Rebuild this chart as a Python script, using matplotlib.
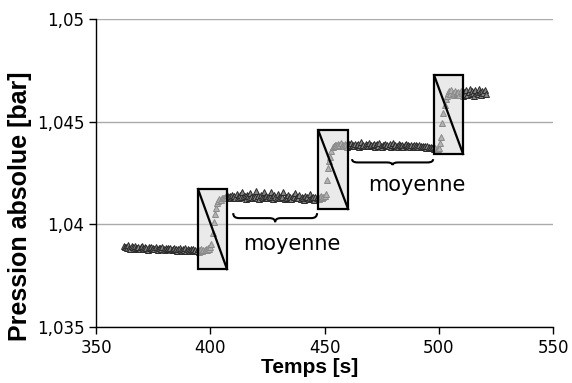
import matplotlib.pyplot as plt
import numpy as np
from matplotlib.patches import Rectangle
from matplotlib.path import Path
from matplotlib.patches import PathPatch

# plateau 1 (0.5 s sampling)
t_p1 = np.arange(362, 398, 0.5)
p_p1 = [1.03896, 1.03888, 1.03892, 1.03884, 1.03899, 1.03887, 1.03882, 1.03893, 1.03889, 1.03880, 1.03894, 1.03886,
        1.03883, 1.03891, 1.03878, 1.03888, 1.03895, 1.03884, 1.03881, 1.03890, 1.03886, 1.03877, 1.03889, 1.03883,
        1.03892, 1.03880, 1.03885, 1.03879, 1.03888, 1.03882, 1.03876, 1.03887, 1.03884, 1.03879, 1.03890, 1.03881,
        1.03875, 1.03884, 1.03880, 1.03887, 1.03878, 1.03883, 1.03874, 1.03881, 1.03886, 1.03877, 1.03880, 1.03873,
        1.03879, 1.03884, 1.03876, 1.03871, 1.03880, 1.03877, 1.03883, 1.03872, 1.03878, 1.03875, 1.03869, 1.03879,
        1.03874, 1.03881, 1.03870, 1.03876, 1.03873, 1.03879, 1.03868, 1.03875, 1.03880, 1.03872, 1.03877, 1.03874]

# step 1
t_s1 = [398.0, 398.5, 399.0, 399.5, 400.0, 400.5, 401.0, 401.5, 402.0, 402.5, 403.0, 403.5,
        404.0, 404.5, 405.0, 405.5]
p_s1 = [1.03880, 1.03875, 1.03885, 1.03878, 1.03890, 1.03905, 1.03960, 1.04010, 1.04050,
        1.04080, 1.04105, 1.04115, 1.04125, 1.04120, 1.04130, 1.04128]

# plateau 2
t_p2 = np.arange(406, 450, 0.5)
p_p2 = [1.04128, 1.04136, 1.04131, 1.04142, 1.04134, 1.04139, 1.04127, 1.04145, 1.04133, 1.04138, 1.04130, 1.04148,
        1.04136, 1.04129, 1.04141, 1.04135, 1.04158, 1.04132, 1.04139, 1.04126, 1.04144, 1.04137, 1.04131, 1.04152,
        1.04134, 1.04128, 1.04140, 1.04136, 1.04163, 1.04130, 1.04137, 1.04125, 1.04143, 1.04135, 1.04129, 1.04156,
        1.04133, 1.04140, 1.04127, 1.04138, 1.04132, 1.04160, 1.04136, 1.04124, 1.04141, 1.04134, 1.04130, 1.04147,
        1.04135, 1.04128, 1.04139, 1.04133, 1.04157, 1.04126, 1.04136, 1.04131, 1.04144, 1.04129, 1.04135, 1.04122,
        1.04138, 1.04132, 1.04153, 1.04127, 1.04134, 1.04130, 1.04142, 1.04125, 1.04136, 1.04131, 1.04120, 1.04139,
        1.04129, 1.04134, 1.04124, 1.04150, 1.04131, 1.04127, 1.04136, 1.04121, 1.04133, 1.04128, 1.04135, 1.04126,
        1.04132, 1.04138, 1.04129, 1.04134]

# step 2
t_s2 = [450.0, 450.5, 451.0, 451.5, 452.0, 452.5, 453.0, 453.5, 454.0, 454.5]
p_s2 = [1.04140, 1.04150, 1.04215, 1.04275, 1.04310, 1.04330, 1.04360, 1.04375, 1.04380, 1.04385]

# plateau 3
t_p3 = np.arange(455, 500, 0.5)
p_p3 = [1.04388, 1.04382, 1.04391, 1.04385, 1.04396, 1.04380, 1.04389, 1.04384, 1.04393, 1.04387, 1.04379, 1.04392,
        1.04386, 1.04399, 1.04383, 1.04388, 1.04381, 1.04394, 1.04385, 1.04390, 1.04378, 1.04387, 1.04402, 1.04384,
        1.04389, 1.04380, 1.04391, 1.04386, 1.04383, 1.04397, 1.04381, 1.04388, 1.04385, 1.04392, 1.04377, 1.04386,
        1.04390, 1.04382, 1.04398, 1.04384, 1.04379, 1.04389, 1.04385, 1.04393, 1.04380, 1.04387, 1.04383, 1.04390,
        1.04378, 1.04386, 1.04395, 1.04381, 1.04388, 1.04384, 1.04379, 1.04391, 1.04385, 1.04382, 1.04388, 1.04376,
        1.04385, 1.04392, 1.04380, 1.04386, 1.04383, 1.04378, 1.04389, 1.04381, 1.04385, 1.04377, 1.04386, 1.04382,
        1.04379, 1.04387, 1.04381, 1.04375, 1.04383, 1.04379, 1.04384, 1.04374, 1.04380, 1.04376, 1.04372, 1.04379,
        1.04370, 1.04375, 1.04368, 1.04372, 1.04365, 1.04369]

# step 3
t_s3 = [500.0, 500.5, 501.0, 501.5, 502.0, 502.5, 503.0, 503.5, 504.0, 504.5, 505.0, 505.5,
        506.0, 506.5, 507.0, 507.5]
p_s3 = [1.04370, 1.04395, 1.04425, 1.04495, 1.04545, 1.04580, 1.04612, 1.04625, 1.04640,
        1.04650, 1.04635, 1.04655, 1.04642, 1.04630, 1.04648, 1.04636]

# plateau 4
t_p4 = np.arange(508, 521, 0.5)
p_p4 = [1.04638, 1.04645, 1.04632, 1.04650, 1.04641, 1.04628, 1.04647, 1.04636, 1.04655, 1.04630, 1.04643, 1.04662,
        1.04634, 1.04648, 1.04639, 1.04627, 1.04653, 1.04641, 1.04635, 1.04660, 1.04644, 1.04631, 1.04649, 1.04638,
        1.04656, 1.04633]

time_s = np.concatenate([t_p1, t_s1, t_p2, t_s2, t_p3, t_s3, t_p4])
pression = np.concatenate([p_p1, p_s1, p_p2, p_s2, p_p3, p_s3, p_p4])

# transition boxes: (t_start, t_end, p_low, p_high)
boxes = [(394.6, 407.3, 1.03782, 1.04172),
         (447.2, 460.3, 1.04075, 1.04459),
         (497.9, 510.6, 1.04343, 1.04727)]

# braces under the averaged plateaus: (t_start, t_end, p_top, p_tip)
braces = [(410.0, 446.7, 1.04055, 1.04011),
          (462.0, 497.5, 1.04318, 1.04289)]
labels = [(435.8, 1.03904, 'moyenne'), (490.5, 1.04192, 'moyenne')]

fig = plt.figure(figsize=(5.72, 3.83), dpi=100)
ax = fig.add_axes([0.168, 0.146, 0.799, 0.804])

ax.plot(time_s, pression, linestyle='none', marker='^', markersize=4.6,
        markerfacecolor='#858585', markeredgecolor='#2a2a2a', markeredgewidth=0.7, zorder=2)

for t0, t1, lo, hi in boxes:
    ax.add_patch(Rectangle((t0, lo), t1 - t0, hi - lo, facecolor='#d9d9d9', alpha=0.55,
                           edgecolor='none', zorder=3))
    ax.add_patch(Rectangle((t0, lo), t1 - t0, hi - lo, facecolor='none',
                           edgecolor='black', linewidth=1.6, zorder=4))
    ax.plot([t0, t1], [hi, lo], color='black', linewidth=1.6, zorder=4)

for t0, t1, top, tip in braces:
    mid = top - (top - tip) * 0.55
    tc = (t0 + t1) / 2
    r = 2.5
    verts = [(t0, top), (t0, mid), (t0 + r, mid),
             (tc - r, mid), (tc, mid), (tc, tip),
             (tc, mid), (tc + r, mid),
             (t1 - r, mid), (t1, mid), (t1, top)]
    codes = [Path.MOVETO, Path.CURVE3, Path.CURVE3,
             Path.LINETO, Path.CURVE3, Path.CURVE3,
             Path.CURVE3, Path.CURVE3,
             Path.LINETO, Path.CURVE3, Path.CURVE3]
    ax.add_patch(PathPatch(Path(verts, codes), facecolor='none', edgecolor='black',
                           linewidth=1.5, zorder=4))

for x, y, s in labels:
    ax.text(x, y, s, ha='center', va='center', fontsize=15, family='DejaVu Sans')

ax.set_xlim(350, 550)
ax.set_ylim(1.035, 1.05)
ax.set_xticks([350, 400, 450, 500, 550])
ax.set_yticks([1.035, 1.04, 1.045, 1.05])
ax.set_yticklabels(['1,035', '1,04', '1,045', '1,05'])
ax.tick_params(labelsize=12, length=5, width=1, color='black', direction='out')
ax.grid(axis='y', color='#aaaaaa', linewidth=1)
ax.set_axisbelow(True)
for side in ['top', 'right']:
    ax.spines[side].set_visible(False)
ax.spines['left'].set_linewidth(1)
ax.spines['bottom'].set_linewidth(1)

ax.set_xlabel('Temps [s]', fontsize=15, fontweight='bold', family='Liberation Sans')
ax.xaxis.set_label_coords(0.468, -0.10)
ax.set_ylabel('Pression absolue [bar]', fontsize=18, fontweight='bold', family='Liberation Sans')
ax.yaxis.set_label_coords(-0.14, 0.393)

fig.savefig('out.png', dpi=100)
